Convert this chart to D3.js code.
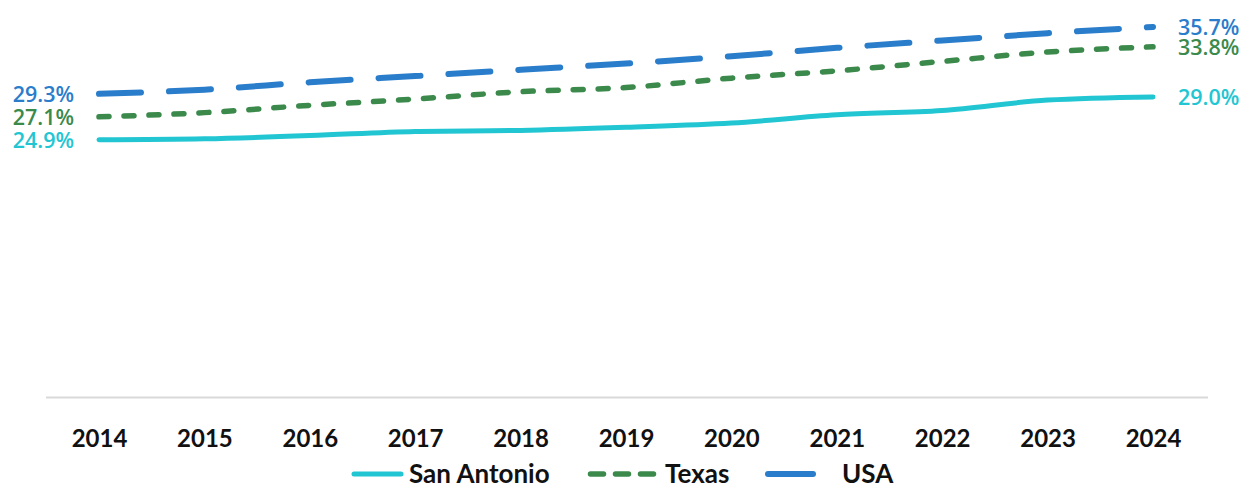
<!DOCTYPE html>
<html>
<head>
<meta charset="utf-8">
<script src="https://d3js.org/d3.v7.min.js"></script>
<style>
  body { margin: 0; background: #fff; }
  text { font-family: Lato, "Open Sans", sans-serif; }
</style>
</head>
<body>
<div id="chart"></div>
<script>
// data
var years = ["2014","2015","2016","2017","2018","2019","2020","2021","2022","2023","2024"];
var sanAntonio = [24.9, 25.0, 25.3, 25.7, 25.8, 26.1, 26.5, 27.3, 27.7, 28.7, 29.0];
var texas      = [27.1, 27.5, 28.2, 28.8, 29.5, 29.9, 30.8, 31.5, 32.4, 33.3, 33.8];
var usa        = [29.3, 29.7, 30.4, 31.0, 31.6, 32.2, 32.9, 33.7, 34.4, 35.1, 35.7];
var seriesNames = ["San Antonio", "Texas", "USA"];

var width = 1251, height = 490;

var svg = d3.select("#chart").append("svg")
    .attr("width", width)
    .attr("height", height);

var x = d3.scalePoint()
    .domain(years)
    .range([99, 1153]);

var y = d3.scaleLinear()
    .domain([0, 40])
    .range([400, -18]);

var series = [
  {name: seriesNames[0], values: sanAntonio, color: "#22c6d2", width: 5, dash: null, legendDash: null},
  {name: seriesNames[1], values: texas, color: "#3b8a4c", width: 5.5, dash: "10,15", legendDash: "13,12"},
  {name: seriesNames[2], values: usa, color: "#2a7dcb", width: 6, dash: "42,28", legendDash: null}
];

// baseline
svg.append("line")
    .attr("x1", 46).attr("x2", 1208)
    .attr("y1", 397.5).attr("y2", 397.5)
    .attr("stroke", "#d9d9d9")
    .attr("stroke-width", 2);

// x labels
var xAxis = d3.axisBottom(x).tickSize(0).tickPadding(0);
var gx = svg.append("g")
    .attr("transform", "translate(0,447)")
    .call(xAxis);
gx.select(".domain").remove();
gx.selectAll("text")
    .attr("dy", 0)
    .style("font-family", "Lato, sans-serif")
    .style("font-size", "24px")
    .style("font-weight", "bold")
    .style("fill", "#111");

var line = d3.line()
    .x(function(d, i) { return x(years[i]); })
    .y(function(d) { return y(d); })
    .curve(d3.curveMonotoneX);

series.forEach(function(s) {
  svg.append("path")
      .datum(s.values)
      .attr("fill", "none")
      .attr("stroke", s.color)
      .attr("stroke-width", s.width)
      .attr("stroke-linecap", "round")
      .attr("stroke-dasharray", s.dash)
      .attr("d", line);

  // start label
  svg.append("text")
      .attr("x", 74)
      .attr("y", y(s.values[0]))
      .attr("dy", "0.36em")
      .attr("text-anchor", "end")
      .style("font-family", "'Open Sans', sans-serif")
      .style("font-size", "21.5px")
      .style("font-weight", 600)
      .style("fill", s.color)
      .text(s.values[0].toFixed(1) + "%");

  // end label
  svg.append("text")
      .attr("x", 1178)
      .attr("y", y(s.values[s.values.length - 1]))
      .attr("dy", "0.36em")
      .attr("text-anchor", "start")
      .style("font-family", "'Open Sans', sans-serif")
      .style("font-size", "21.5px")
      .style("font-weight", 600)
      .style("fill", s.color)
      .text(s.values[s.values.length - 1].toFixed(1) + "%");
});

// legend
var legendPos = [
  {lx1: 354, lx2: 401, tx: 409},
  {lx1: 590.5, lx2: 655.5, tx: 665},
  {lx1: 768, lx2: 813, tx: 842}
];
series.forEach(function(s, i) {
  var p = legendPos[i];
  svg.append("line")
      .attr("x1", p.lx1).attr("x2", p.lx2)
      .attr("y1", 474).attr("y2", 474)
      .attr("stroke", s.color)
      .attr("stroke-width", s.width)
      .attr("stroke-linecap", "round")
      .attr("stroke-dasharray", s.legendDash);
  svg.append("text")
      .attr("x", p.tx)
      .attr("y", 474)
      .attr("dy", "0.36em")
      .style("font-family", "Lato, sans-serif")
      .style("font-size", "26px")
      .style("font-weight", "bold")
      .style("fill", "#111")
      .text(s.name);
});
</script>
</body>
</html>
